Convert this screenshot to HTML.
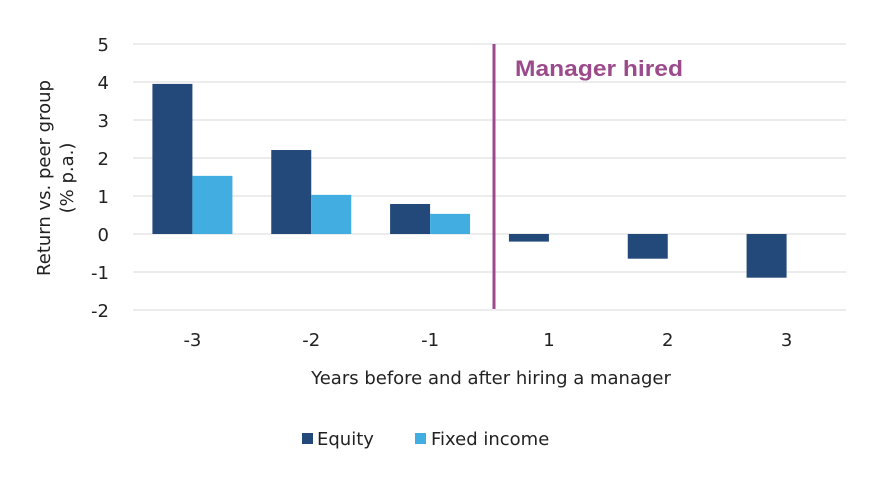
<!DOCTYPE html>
<html><head><meta charset="utf-8"><style>
body{margin:0;background:#fff;}
svg{display:block;font-family:"DejaVu Sans","Liberation Sans",sans-serif;}
</style></head><body>
<svg id="chart" width="888" height="482">
<g id="grid"></g><g id="bars"></g><g id="labels"></g>
<text transform="translate(50,178) rotate(-90)" text-anchor="middle" font-size="18" fill="#222">
<tspan x="0" dy="0">Return vs. peer group</tspan><tspan x="0" dy="23">(% p.a.)</tspan></text>
<text x="491" y="384" text-anchor="middle" font-size="18" fill="#222">Years before and after hiring a manager</text>
<g>
<rect x="302" y="433" width="11" height="11" fill="#23497a"/>
<text x="317" y="445" font-size="18" fill="#222">Equity</text>
<rect x="415" y="433" width="11" height="11" fill="#41ade1"/>
<text x="431" y="445" font-size="18" fill="#222">Fixed income</text>
</g>
<line x1="494" y1="44" x2="494" y2="309" stroke="#9b4a8c" stroke-width="3"/>
<text x="515" y="76" font-size="22" font-weight="bold" fill="#9b4a8c" font-family="Liberation Sans, sans-serif" textLength="168" lengthAdjust="spacingAndGlyphs">Manager hired</text>
</svg>
<script>
const categories=["-3","-2","-1","1","2","3"];
const equity=[3.95,2.21,0.79,-0.2,-0.65,-1.15];
const fixedIncome=[1.53,1.03,0.53,null,null,null];
const yTicks=[5,4,3,2,1,0,-1,-2];
const NS="http://www.w3.org/2000/svg";
const x0=133,x1=846,yTop=44,yBot=310,yMax=5,yMin=-2;
const y=v=>yTop+(yMax-v)/(yMax-yMin)*(yBot-yTop);
const band=(x1-x0)/categories.length;
const cx=i=>x0+band*(i+0.5);
const bw=40;
function mk(t,a,p){const e=document.createElementNS(NS,t);for(const k in a)e.setAttribute(k,a[k]);p.appendChild(e);return e;}
const G=document.getElementById('grid'),B=document.getElementById('bars'),L=document.getElementById('labels');
yTicks.forEach(t=>{
 const ln=mk('line',{x1:x0,x2:x1,y1:y(t),y2:y(t),stroke:'#d9d9d9','stroke-width':1},G);
 
 
 const tx=mk('text',{x:109,y:y(t)+7,'text-anchor':'end','font-size':18,fill:'#222'},L);
 tx.textContent=t;
 
 
});
categories.forEach((c,i)=>{
 const tx=mk('text',{x:cx(i),y:346,'text-anchor':'middle','font-size':18,fill:'#222'},L);
 tx.textContent=c;
 
 
 const v=equity[i];
 const r=mk('rect',{x:cx(i)-bw,y:Math.min(y(v),y(0)),width:bw,height:Math.abs(y(v)-y(0)),fill:'#23497a'},B);
 
 
 const f=fixedIncome[i];
 if(f!==null){
  const r2=mk('rect',{x:cx(i),y:Math.min(y(f),y(0)),width:bw,height:Math.abs(y(f)-y(0)),fill:'#41ade1'},B);
  
  
 }
});
</script>
</body></html>
